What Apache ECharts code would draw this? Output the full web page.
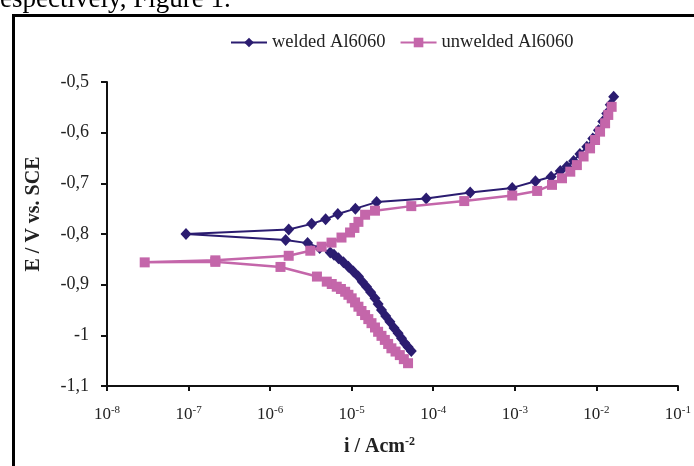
<!DOCTYPE html>
<html>
<head>
<meta charset="utf-8">
<script src="https://cdn.jsdelivr.net/npm/echarts@6/dist/echarts.min.js"></script>
<style>
html,body{margin:0;padding:0;background:#fff;}
#chart{width:694px;height:466px;}
</style>
</head>
<body>
<div id="chart"></div>
<script>
// Series names
var seriesNames = ['welded Al6060', 'unwelded Al6060'];

// welded Al6060: current density (A/cm2) and potential (V vs SCE)
var weldedI = [5.38e-5,4.91e-5,4.47e-5,4.08e-5,3.71e-5,3.31e-5,2.94e-5,2.61e-5,2.32e-5,2.11e-5,
  1.93e-5,1.71e-5,1.52e-5,1.35e-5,1.21e-5,1.05e-5,9.12e-6,7.93e-6,6.89e-6,6.07e-6,
  5.46e-6,4.05e-6,2.88e-6,1.55e-6,9.3e-8,
  1.69e-6,3.23e-6,4.79e-6,6.76e-6,1.11e-5,2.02e-5,8.2e-5,2.84e-4,9.3e-4,1.79e-3,
  2.79e-3,3.61e-3,4.35e-3,5.26e-3,6.28e-3,7.64e-3,9.04e-3,1.06e-2,1.20e-2,1.34e-2,1.48e-2,1.63e-2];
var weldedE = [-1.031,-1.023,-1.015,-1.006,-0.996,-0.9855,-0.973,-0.962,-0.950,-0.938,
  -0.927,-0.915,-0.904,-0.894,-0.884,-0.874,-0.8645,-0.856,-0.848,-0.841,
  -0.8365,-0.8276,-0.818,-0.812,-0.800,
  -0.791,-0.780,-0.771,-0.7605,-0.750,-0.737,-0.730,-0.718,-0.709,-0.696,
  -0.687,-0.6757,-0.667,-0.656,-0.642,-0.628,-0.6115,-0.595,-0.578,-0.562,-0.545,-0.529];

// unwelded Al6060
var unweldedI = [4.91e-5,4.36e-5,3.89e-5,3.45e-5,3.07e-5,2.80e-5,2.55e-5,2.32e-5,2.11e-5,1.93e-5,
  1.75e-5,1.60e-5,1.46e-5,1.32e-5,1.21e-5,1.10e-5,1.0e-5,9.12e-6,8.32e-6,7.38e-6,
  6.56e-6,5.70e-6,4.95e-6,3.75e-6,1.34e-6,2.13e-7,2.9e-8,2.13e-7,
  1.69e-6,3.11e-6,4.28e-6,5.66e-6,7.5e-6,9.55e-6,1.08e-5,1.21e-5,1.46e-5,1.93e-5,5.38e-5,2.4e-4,9.3e-4,1.88e-3,
  2.86e-3,3.79e-3,4.79e-3,5.77e-3,6.97e-3,8.37e-3,9.64e-3,1.11e-2,1.28e-2,1.40e-2,1.54e-2];
var unweldedE = [-1.055,-1.047,-1.039,-1.032,-1.0256,-1.017,-1.009,-1.001,-0.993,-0.9845,
  -0.976,-0.968,-0.960,-0.952,-0.9435,-0.935,-0.927,-0.920,-0.914,-0.9085,
  -0.904,-0.8987,-0.894,-0.884,-0.865,-0.855,-0.856,-0.852,
  -0.843,-0.833,-0.825,-0.817,-0.807,-0.797,-0.788,-0.776,-0.762,-0.754,-0.745,-0.735,-0.724,-0.715,
  -0.703,-0.690,-0.677,-0.664,-0.647,-0.631,-0.6145,-0.598,-0.5815,-0.565,-0.549];

// axis ranges / ticks
var xMin = 1e-8, xMax = 1e-1;
var yMin = -1.1, yMax = -0.5, yStep = 0.1;
var yTitle = 'E / V vs. SCE';
var topText = 'espectively, Figure 1.';

function pairs(xs, ys){ var r=[]; for(var i=0;i<xs.length;i++) r.push([xs[i], ys[i]]); return r; }

var serif = '"Liberation Serif", "Times New Roman", serif';
var chart = echarts.init(document.getElementById('chart'));
chart.setOption({
  animation: false,
  backgroundColor: '#fff',
  graphic: [
    { type: 'text', left: 0, top: -14, style: { text: topText, font: '27px ' + serif, fill: '#000' } },
    { type: 'rect', shape: { x: 13.5, y: 15.5, width: 720, height: 500 }, style: { fill: 'none', stroke: '#000', lineWidth: 3 }, z: -1 },
    { type: 'text', x: 34, y: 214, rotation: Math.PI / 2,
      style: { text: yTitle, font: 'bold 20px ' + serif, fill: '#222', align: 'center', verticalAlign: 'middle' } }
  ],
  legend: {
    left: 225, top: 28,
    itemWidth: 36, itemHeight: 12, itemGap: 14,
    textStyle: { fontFamily: serif, fontSize: 18.5, color: '#222' },
    data: seriesNames
  },
  grid: { left: 107, right: 12, top: 82, bottom: 80, containLabel: false },
  xAxis: {
    type: 'log', logBase: 10, min: xMin, max: xMax,
    name: '{t|i / Acm}{s|-2}', nameLocation: 'middle', nameGap: 50,
    nameTextStyle: { padding: [0, 26, 0, 0], rich: {
      t: { fontFamily: serif, fontSize: 20, fontWeight: 'bold', color: '#222' },
      s: { fontFamily: serif, fontSize: 12, fontWeight: 'bold', color: '#222', padding: [0,0,10,0] }
    } },
    axisLine: { lineStyle: { color: '#111', width: 2 } },
    axisTick: { inside: false, length: 5, lineStyle: { color: '#111', width: 2 } },
    splitLine: { show: false },
    minorTick: { show: false },
    axisLabel: {
      margin: 19,
      formatter: function(v){ return '{b|10}{s|' + Math.round(Math.log10(v)) + '}'; },
      rich: {
        b: { fontFamily: serif, fontSize: 17, color: '#222' },
        s: { fontFamily: serif, fontSize: 11, color: '#222', padding: [0,0,9,0] }
      }
    }
  },
  yAxis: {
    type: 'value', min: yMin, max: yMax, interval: yStep,
    axisLine: { show: true, lineStyle: { color: '#111', width: 2 } },
    axisTick: { show: true, inside: false, length: 6, lineStyle: { color: '#111', width: 2 } },
    splitLine: { show: false },
    axisLabel: {
      margin: 18, fontFamily: serif, fontSize: 18, color: '#222',
      formatter: function(v){ return String(Math.round(v*10)/10).replace('.', ','); }
    }
  },
  series: [
    {
      name: seriesNames[0], type: 'line', data: pairs(weldedI, weldedE),
      symbol: 'diamond', symbolSize: [11, 12],
      itemStyle: { color: '#2b1c70' },
      lineStyle: { color: '#2b1c70', width: 2 },
      z: 2
    },
    {
      name: seriesNames[1], type: 'line', data: pairs(unweldedI, unweldedE),
      symbol: 'rect', symbolSize: 10,
      itemStyle: { color: '#c466aa' },
      lineStyle: { color: '#c466aa', width: 2.5 },
      z: 3
    }
  ]
});
</script>
</body>
</html>
